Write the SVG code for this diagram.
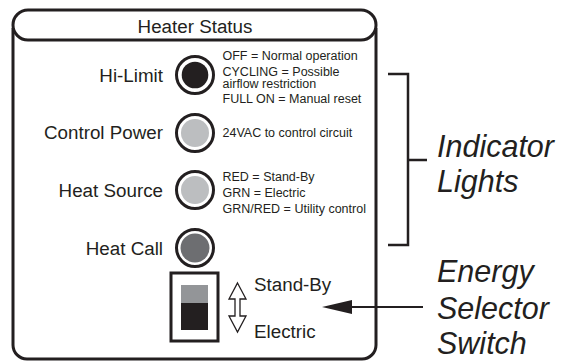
<svg xmlns="http://www.w3.org/2000/svg" width="563" height="362" viewBox="0 0 563 362">
<defs>
<style>
.lbl{font-family:"Liberation Sans",Arial,sans-serif;font-size:18.8px;fill:#231f20}
.sm{font-family:"Liberation Sans",Arial,sans-serif;font-size:12.5px;fill:#231f20}
.big{font-family:"Liberation Sans",Arial,sans-serif;font-size:30.5px;font-style:italic;fill:#231f20}
.ring{fill:#fff;stroke:#231f20;stroke-width:3}
.ln{fill:none;stroke:#231f20;stroke-width:2.5}
.frame{fill:none;stroke:#231f20;stroke-width:3}
</style>
<marker id="ah" viewBox="0 0 30 14" refX="0" refY="7" markerWidth="30" markerHeight="14" markerUnits="userSpaceOnUse" orient="auto">
<path d="M0,0 L30,7 L0,14 z" fill="#231f20"/>
</marker>
</defs>
<rect width="563" height="362" fill="#fff"/>
<g id="panel">
<path class="frame" d="M13,28 V345 A14,14 0 0 0 27,359 H362 A14,14 0 0 0 376,345 V28"/>
<rect class="frame" x="13" y="10" width="363" height="30" rx="15" fill="#fff"/>
<text class="lbl" x="195" y="33" text-anchor="middle">Heater Status</text>
</g>
<g id="hi-limit">
<text class="lbl" x="163" y="82" text-anchor="end">Hi-Limit</text>
<circle class="ring" cx="195" cy="75" r="18.5"/>
<circle cx="195" cy="75" r="13.3" fill="#231f20"/>
<text class="sm" x="222.5" y="60">OFF = Normal operation</text>
<text class="sm" x="222.5" y="75.5">CYCLING = Possible</text>
<text class="sm" x="222.5" y="88">airflow restriction</text>
<text class="sm" x="222.5" y="103">FULL ON = Manual reset</text>
</g>
<g id="control-power">
<text class="lbl" x="163" y="139" text-anchor="end">Control Power</text>
<circle class="ring" cx="195" cy="133" r="18.5"/>
<circle cx="195" cy="133" r="14" fill="#bcbec0"/>
<text class="sm" x="222.5" y="137">24VAC to control circuit</text>
</g>
<g id="heat-source">
<text class="lbl" x="163" y="197" text-anchor="end">Heat Source</text>
<circle class="ring" cx="195" cy="190" r="18.5"/>
<circle cx="195" cy="190" r="14" fill="#bcbec0"/>
<text class="sm" x="222.5" y="181">RED = Stand-By</text>
<text class="sm" x="222.5" y="197">GRN = Electric</text>
<text class="sm" x="222.5" y="213">GRN/RED = Utility control</text>
</g>
<g id="heat-call">
<text class="lbl" x="163" y="255" text-anchor="end">Heat Call</text>
<circle class="ring" cx="195" cy="248" r="18.5"/>
<circle cx="195" cy="248" r="14.5" fill="#6d6e71"/>
</g>
<g id="switch">
<rect x="171" y="273" width="47" height="68" fill="#fff" stroke="#231f20" stroke-width="3"/>
<rect x="181" y="285" width="27" height="18" fill="#939598"/>
<rect x="181" y="303" width="27" height="27" fill="#231f20"/>
<path d="M237.5,283 L246,299 H240 V316 H246 L237.5,332 L229,316 H235 V299 H229 Z" fill="#fff" stroke="#231f20" stroke-width="1.3" stroke-linejoin="miter"/>
<text class="lbl" x="254" y="291">Stand-By</text>
<text class="lbl" x="254" y="338">Electric</text>
</g>
<g id="indicator-lights">
<text class="big" x="437" y="157">Indicator</text>
<text class="big" x="437" y="192">Lights</text>
</g>
<g id="energy-selector">
<text class="big" x="437" y="282">Energy</text>
<text class="big" x="437" y="319">Selector</text>
<text class="big" x="437" y="354">Switch</text>
</g>
<g id="connectors">
<path class="ln" d="M388,74 H408 V245 H388 M408,160 H427"/>
<line x1="423" y1="307" x2="352" y2="307" stroke="#231f20" stroke-width="2.2" marker-end="url(#ah)"/>
</g>
</svg>
